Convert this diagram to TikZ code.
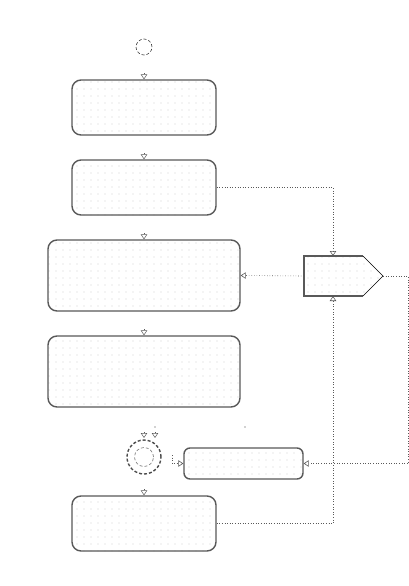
\documentclass[tikz,border=0pt]{standalone}
\usetikzlibrary{arrows.meta,patterns.meta,calc}
\begin{document}
\begin{tikzpicture}[x=1pt,y=-1pt,
  task/.style={draw=black!65,line width=1.4pt,rounded corners=9pt,
    pattern={Dots[distance=7pt,radius=0.45pt]},pattern color=black!50,
    inner sep=0pt},
  headonly/.style={draw=black!65,line width=0.5pt,-{Triangle[open,length=5pt,width=6.5pt]}},
  opentip/.style={draw=black!65,line width=0.6pt,dotted,-{Triangle[open,length=5pt,width=6.5pt]}}]
\useasboundingbox (0,0) rectangle (409,586);
\fill[white] (0,0) rectangle (409,586);
% start event
\node[draw=black!75,line width=0.6pt,densely dashed,circle,minimum size=16pt,inner sep=0pt] (start) at (144,47) {};
% tasks
\node[task,minimum width=144pt,minimum height=55pt] (b1) at (144,107.5) {};
\node[task,minimum width=144pt,minimum height=55pt] (b2) at (144,187.5) {};
\node[task,minimum width=192pt,minimum height=71pt] (b3) at (144,275.5) {};
\node[task,minimum width=192pt,minimum height=71pt] (b4) at (144,371.5) {};
\node[task,rounded corners=6pt,minimum width=119pt,minimum height=31pt] (b5) at (243.5,463.5) {};
\node[task,minimum width=144pt,minimum height=55pt] (b6) at (144,523.5) {};
% end event
\node[draw=black!70,line width=1.4pt,densely dashed,circle,minimum size=34pt,inner sep=0pt] (endev) at (144,457) {};
\node[draw=black!55,line width=0.6pt,densely dashed,circle,minimum size=19pt,inner sep=0pt] (endin) at (144,457) {};
% pentagon (intermediate event / signal)
\coordinate (pnw) at (304,256);
\coordinate (pne) at (363,256);
\coordinate (ptip) at (383,276);
\coordinate (pse) at (363,296);
\coordinate (psw) at (304,296);
\coordinate (pleft) at (304,276);
\coordinate (ptop) at (333,256);
\coordinate (pbot) at (333,296);
\fill[pattern={Dots[distance=7pt,radius=0.45pt]},pattern color=black!50] (pnw) -- (pne) -- (ptip) -- (pse) -- (psw) -- cycle;
\draw[black!65,line width=1.4pt] (pne) -- (pnw) -- (psw) -- (pse);
\draw[black,line width=0.6pt] (pne) -- (ptip) -- (pse);
% arrowheads on top of tasks
\draw[headonly] ($(b1.north)+(0,-6)$) -- (b1.north);
\draw[headonly] ($(b2.north)+(0,-6)$) -- (b2.north);
\draw[headonly] ($(b3.north)+(0,-6)$) -- (b3.north);
\draw[headonly] ($(b4.north)+(0,-6)$) -- (b4.north);
\draw[headonly] ($(b6.north)+(0,-6)$) -- (b6.north);
\coordinate (e1) at (144,438);
\coordinate (e2) at (155,438);
\draw[headonly] ($(e1)+(0,-6)$) -- (e1);
\draw[headonly] ($(e2)+(0,-6)$) -- (e2);
% stray dots
\fill[black!75] (155,427) circle (0.7);
\fill[black!75] (245,427) circle (0.7);
% flows
\draw[opentip] (b2.east) -| (ptop);
\draw[opentip] (pleft) -- (b3.east);
\draw[opentip] (b6.east) -| (pbot);
\coordinate (rc) at (408,276);
\draw[opentip] (ptip) -- (rc) |- (b5.east);
\coordinate (ls) at (172,455);
\draw[opentip] (ls) |- (b5.west);
\end{tikzpicture}
\end{document}
